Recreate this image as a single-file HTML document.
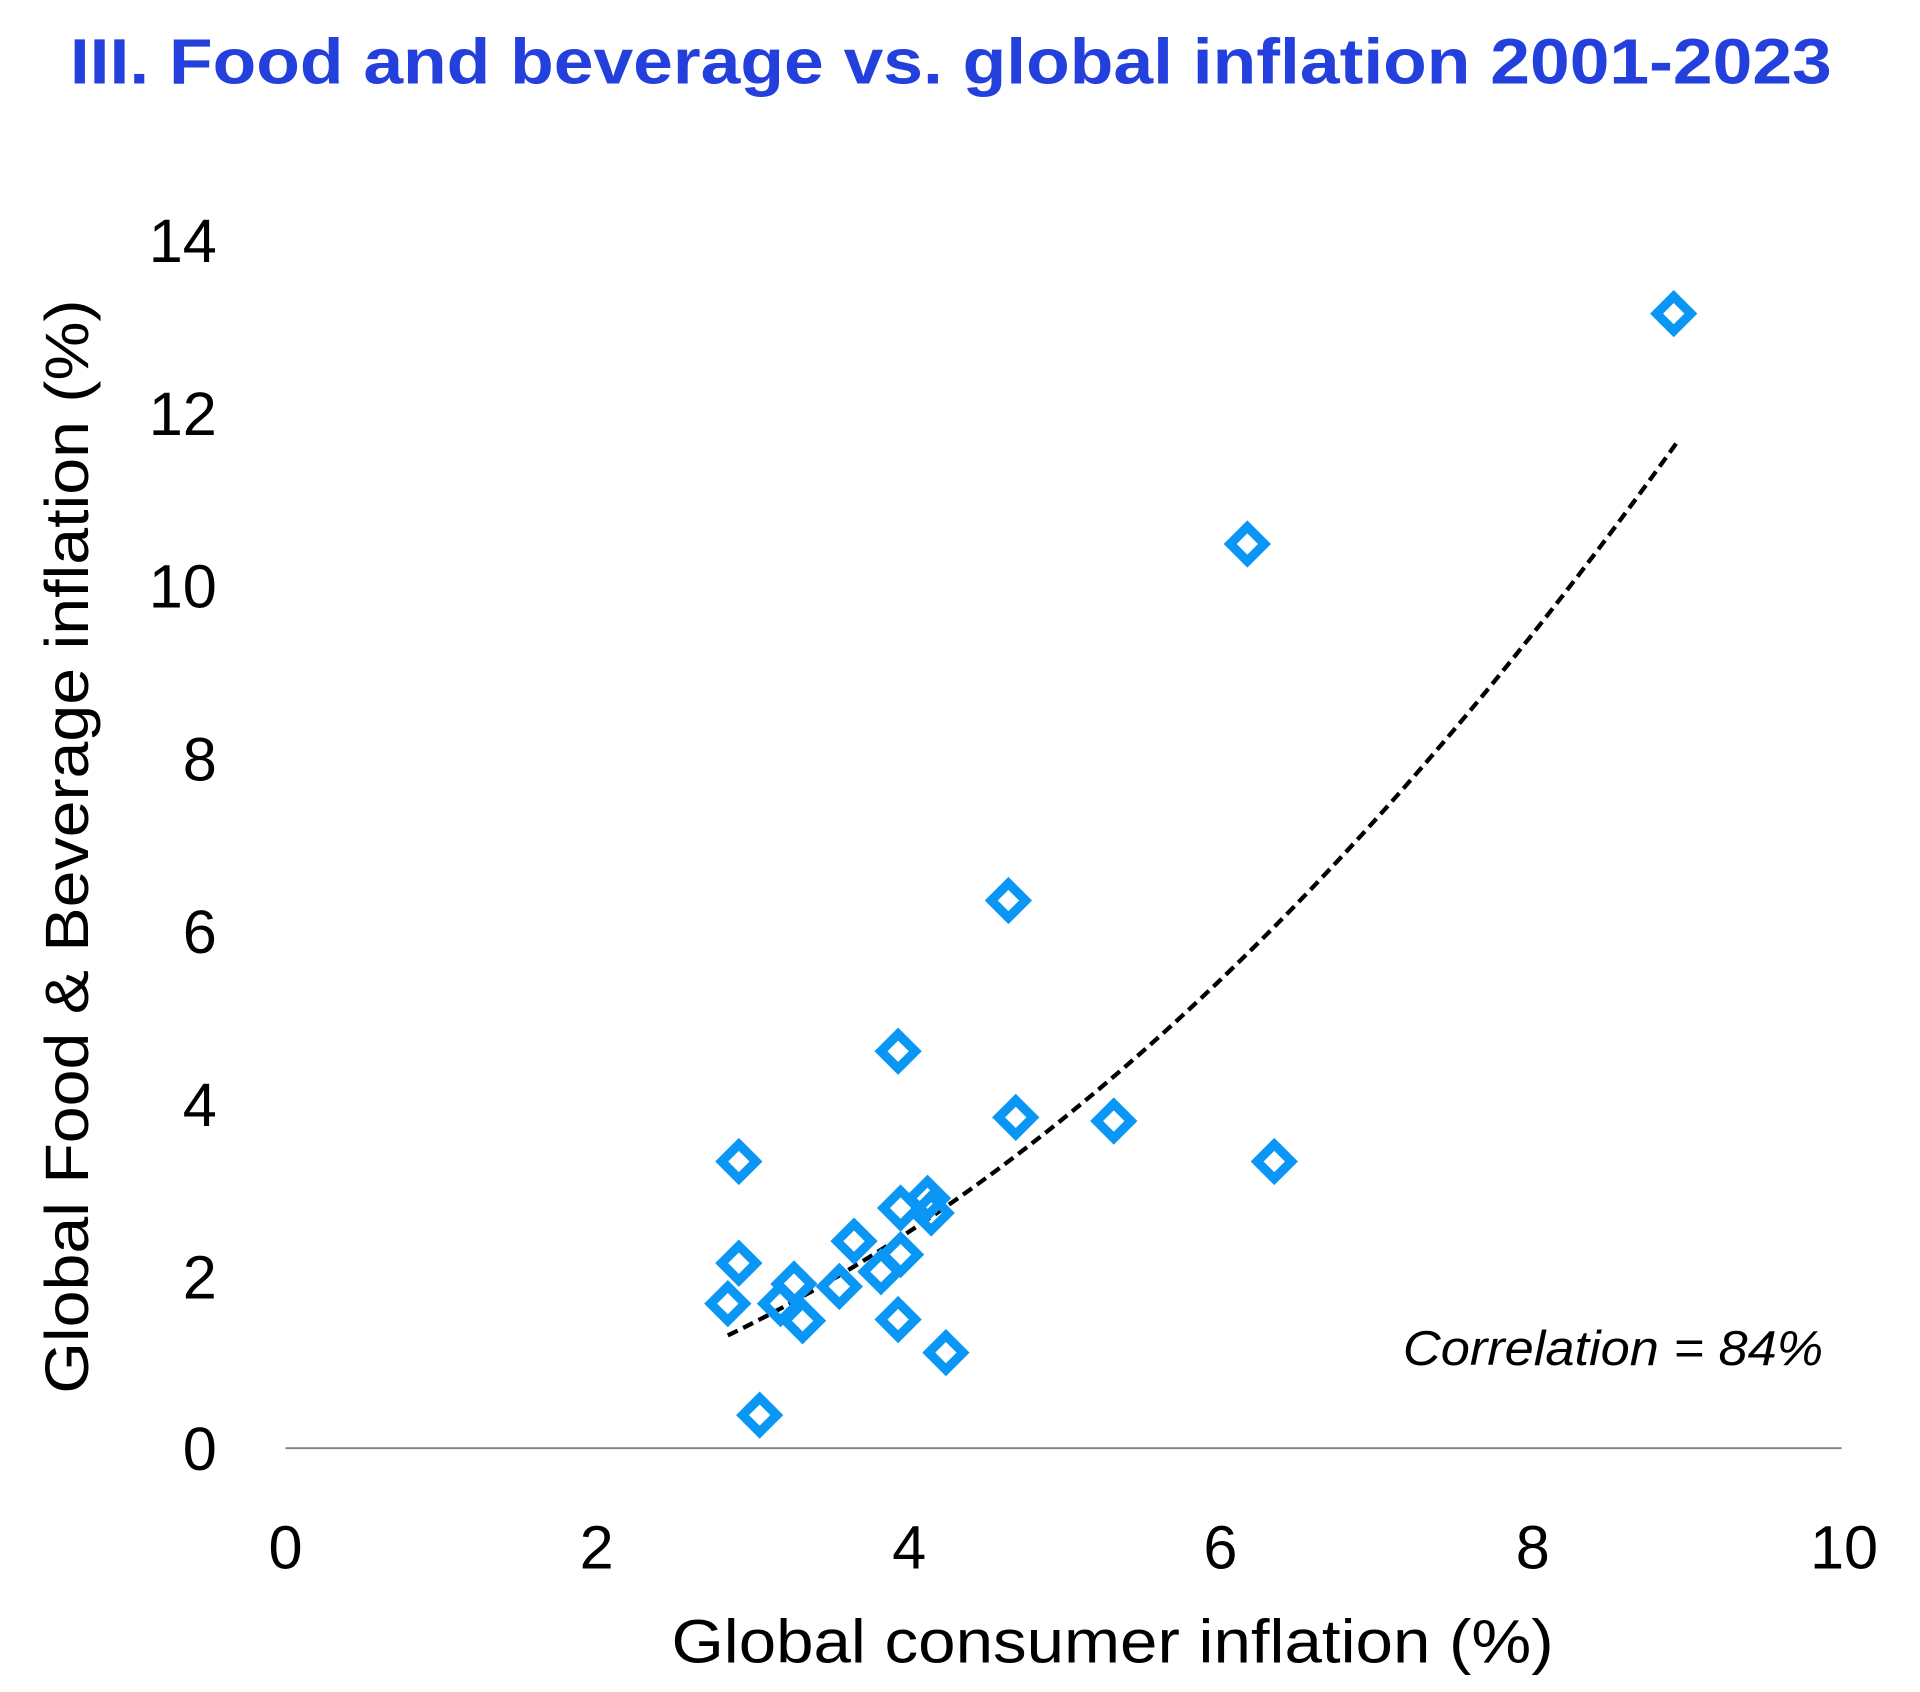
<!DOCTYPE html>
<html><head><meta charset="utf-8"><style>html,body{margin:0;padding:0;background:#fff}svg{display:block}</style></head>
<body>
<svg width="1920" height="1692" viewBox="0 0 1567 1381" preserveAspectRatio="none" xmlns="http://www.w3.org/2000/svg">
<rect width="1567" height="1381" fill="#fff"/>
<text x="57" y="68" font-family="Liberation Sans, sans-serif" font-weight="bold" font-size="52" fill="#2340dc" textLength="1438" lengthAdjust="spacingAndGlyphs">III. Food and beverage vs. global inflation 2001-2023</text>
<g font-family="Liberation Sans, sans-serif" font-size="50" fill="#000" text-anchor="end">
<text x="177" y="214">14</text>
<text x="177" y="355">12</text>
<text x="177" y="496">10</text>
<text x="177" y="637">8</text>
<text x="177" y="778">6</text>
<text x="177" y="919">4</text>
<text x="177" y="1060">2</text>
<text x="177" y="1200">0</text>
</g>
<g font-family="Liberation Sans, sans-serif" font-size="50" fill="#000" text-anchor="middle">
<text x="233" y="1280">0</text>
<text x="487" y="1280">2</text>
<text x="742" y="1280">4</text>
<text x="996" y="1280">6</text>
<text x="1251" y="1280">8</text>
<text x="1505" y="1280">10</text>
</g>
<line x1="233" y1="1182" x2="1503" y2="1182" stroke="#808080" stroke-width="1.5"/>
<text x="548" y="1357" font-family="Liberation Sans, sans-serif" font-size="50" fill="#000" textLength="720" lengthAdjust="spacingAndGlyphs">Global consumer inflation (%)</text>
<text transform="translate(72,691) rotate(-90)" text-anchor="middle" font-family="Liberation Sans, sans-serif" font-size="50" fill="#000" textLength="893" lengthAdjust="spacingAndGlyphs">Global Food &amp; Beverage inflation (%)</text>
<text x="1145" y="1114" font-family="Liberation Sans, sans-serif" font-style="italic" font-size="40" fill="#000" textLength="343" lengthAdjust="spacingAndGlyphs">Correlation = 84%</text>
<path d="M594,1090 Q981,902 1368,362" fill="none" stroke="#000" stroke-width="3.5" stroke-dasharray="9,5"/>
<g fill="none" stroke="#0a96f5" stroke-width="7.5" stroke-linejoin="miter">
<path d="M0,-14 L14,0 L0,14 L-14,0 Z" transform="translate(1366,256)"/>
<path d="M0,-14 L14,0 L0,14 L-14,0 Z" transform="translate(1018,444)"/>
<path d="M0,-14 L14,0 L0,14 L-14,0 Z" transform="translate(823,735)"/>
<path d="M0,-14 L14,0 L0,14 L-14,0 Z" transform="translate(733,858)"/>
<path d="M0,-14 L14,0 L0,14 L-14,0 Z" transform="translate(829,912)"/>
<path d="M0,-14 L14,0 L0,14 L-14,0 Z" transform="translate(909,915)"/>
<path d="M0,-14 L14,0 L0,14 L-14,0 Z" transform="translate(1040,948)"/>
<path d="M0,-14 L14,0 L0,14 L-14,0 Z" transform="translate(603,948)"/>
<path d="M0,-14 L14,0 L0,14 L-14,0 Z" transform="translate(735,986)"/>
<path d="M0,-14 L14,0 L0,14 L-14,0 Z" transform="translate(757,978)"/>
<path d="M0,-14 L14,0 L0,14 L-14,0 Z" transform="translate(760,990)"/>
<path d="M0,-14 L14,0 L0,14 L-14,0 Z" transform="translate(697,1013)"/>
<path d="M0,-14 L14,0 L0,14 L-14,0 Z" transform="translate(603,1031)"/>
<path d="M0,-14 L14,0 L0,14 L-14,0 Z" transform="translate(735,1024)"/>
<path d="M0,-14 L14,0 L0,14 L-14,0 Z" transform="translate(719,1038)"/>
<path d="M0,-14 L14,0 L0,14 L-14,0 Z" transform="translate(648,1048)"/>
<path d="M0,-14 L14,0 L0,14 L-14,0 Z" transform="translate(685,1050)"/>
<path d="M0,-14 L14,0 L0,14 L-14,0 Z" transform="translate(637,1064)"/>
<path d="M0,-14 L14,0 L0,14 L-14,0 Z" transform="translate(594,1064)"/>
<path d="M0,-14 L14,0 L0,14 L-14,0 Z" transform="translate(655,1078)"/>
<path d="M0,-14 L14,0 L0,14 L-14,0 Z" transform="translate(733,1077)"/>
<path d="M0,-14 L14,0 L0,14 L-14,0 Z" transform="translate(772,1104)"/>
<path d="M0,-14 L14,0 L0,14 L-14,0 Z" transform="translate(620,1155)"/>
</g>
</svg>
</body></html>
